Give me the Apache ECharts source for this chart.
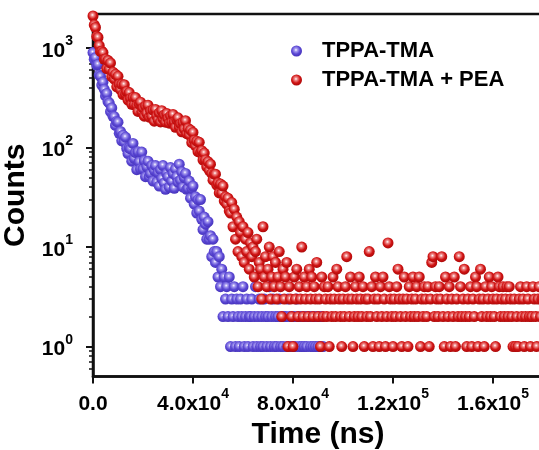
<!DOCTYPE html>
<html><head><meta charset="utf-8">
<script src="https://cdn.jsdelivr.net/npm/echarts@6/dist/echarts.min.js"></script>
<style>html,body{margin:0;padding:0;background:#fff}#c{width:539px;height:450px}</style>
</head><body><div id="c"></div>
<script>
// channel width of the decay histogram (ns)
const TIME_STEP_NS = 500;
const seriesNames = ['TPPA-TMA', 'TPPA-TMA + PEA'];

// TPPA-TMA counts, one per channel starting at t = 0 (10 channels = 5 µs per row)
const countsTPPA = [
  900,770,800,670,685,535,520,425,455,385,
  330,350,290,280,230,250,206,205,167,183,
  180,139,145,117,133,114,127,98,87,99,
  97,73,110,78,89,60,91,72,61,90,
  61,74,51,64,73,51,55,66,46,59,
  66,45,56,41,60,49,66,44,38,55,
  51,40,63,46,55,39,61,51,45,68,
  47,57,40,50,55,38,39,46,31,39,
  41,27,32,22,30,23,30,19,15,20,
  17,12,18,12,13,8,12,9,7,9,
  5,8,4,6,2,5,3,4,2,5,
  1,3,2,4,1,3,2,1,3,2,
  4,1,2,3,1,2,2,3,1,2,
  4,1,2,3,1,2,1,3,2,1,
  2,4,1,2,3,1,2,1,2,3,
  1,2,1,2,2,1,3,2,1,2,
  1,2,1,3,2,1,2,1,2,1,
  2,1,2,2,1,2,1,2,1,2,
  1,2,1,2,1
];

// TPPA-TMA + PEA counts, one per channel starting at t = 0 (10 channels = 5 µs per row)
const countsTPPA_PEA = [
  2100,1710,1610,1310,1280,1060,925,930,900,770,
  775,620,750,613,708,516,572,488,545,408,
  520,431,382,431,341,428,344,366,300,357,
  312,272,318,269,318,264,231,273,286,230,
  250,207,261,221,267,202,233,206,238,184,
  242,208,191,223,181,235,195,213,180,220,
  196,176,208,180,215,181,160,190,199,161,
  174,144,179,154,186,138,156,134,150,112,
  142,118,104,116,91,113,89,93,75,88,
  75,64,72,59,68,55,47,54,54,42,
  44,35,43,35,41,29,32,27,31,23,
  22,28,16,24,12,20,9,18,14,8,
  16,7,12,9,14,6,11,8,10,5,
  9,12,4,7,6,3,16,5,8,4,
  6,10,3,5,8,4,7,3,5,9,
  4,2,6,3,5,7,1,4,3,2,
  1,5,3,6,2,4,3,10,2,5,
  3,4,2,6,3,5,2,4,3,7,
  2,3,1,5,2,4,3,2,4,1,
  3,2,5,3,2,6,4,3,2,1,
  3,2,4,8,3,2,5,3,1,2,
  4,3,2,5,3,2,4,1,3,2,
  3,9,2,4,1,3,5,2,3,1,
  4,2,5,3,1,2,11,4,3,2,
  1,3,2,4,6,3,2,1,3,5,
  2,3,1,4,2,3,5,2,3,4,
  2,5,1,3,2,4,3,2,4,1,
  3,7,8,2,4,3,2,4,3,8,
  2,1,5,3,2,4,1,3,2,5,
  1,3,2,8,4,2,3,6,2,1,
  3,2,4,1,3,2,5,4,1,3,
  6,2,3,1,4,2,3,5,2,4,
  3,2,1,3,5,4,2,3,4,2,
  3,4,2,4,3,2,1,3,1,2,
  1,3,4,2,3,1,2,4,3,2,
  1,2,4,3,2,1,3,4,2,3,
  3
];

const xTickValues = [0, 40000, 80000, 120000, 160000];
const yMajorTicks = [1, 10, 100, 1000];
const yMinorTicks = [0.6,0.7,0.8,0.9,2,3,4,5,6,7,8,9,20,30,40,50,60,70,80,90,200,300,400,500,600,700,800,900,2000];
const Y_MIN = 0.5, Y_MAX = 2200, X_MIN = 0, X_MAX = 180000;

const toPairs = arr => arr.map((v, i) => [i * TIME_STEP_NS, v]).filter(p => p[1] != null && p[1] > 0);

function sphere(light, base, dark) {
  return {
    type: 'radial', x: 0.45, y: 0.4, r: 0.62,
    colorStops: [
      {offset: 0, color: '#ffffff'},
      {offset: 0.22, color: light},
      {offset: 0.6, color: base},
      {offset: 1, color: dark}
    ]
  };
}

const FONT = 'Liberation Sans, Arial, sans-serif';
const rich = {
  b: {fontFamily: FONT, fontWeight: 'bold', fontSize: 21, color: '#000', lineHeight: 27, verticalAlign: 'bottom'},
  s: {fontFamily: FONT, fontWeight: 'bold', fontSize: 14, color: '#000', lineHeight: 27, verticalAlign: 'top'}
};

function fmtX(v) {
  if (v === 0) return '{b|0.0}';
  const e = Math.floor(Math.log10(v) + 1e-9);
  const m = v / Math.pow(10, e);
  return '{b|' + m.toFixed(1) + 'x10}{s|' + e + '}';
}
function fmtY(v) {
  const e = Math.round(Math.log10(v));
  if (Math.abs(Math.pow(10, e) - v) > 1e-6 * v) return '';
  return '{b|10}{s|' + e + '}';
}

// helper tick axes live in log10 space so tick marks land on decades / sub-decades
const logTickAxis = (vals, len, w) => ({
  type: 'value', position: 'left', min: Math.log10(Y_MIN), max: Math.log10(Y_MAX),
  axisLine: {show: false, onZero: false},
  axisTick: {show: true, inside: false, length: len, lineStyle: {color: '#111', width: w}, customValues: vals.map(Math.log10)},
  axisLabel: {show: false},
  splitLine: {show: false}
});

const chart = echarts.init(document.getElementById('c'), null, {renderer: 'canvas'});
chart.setOption({
  animation: false,
  backgroundColor: '#fff',
  grid: {left: 93, top: 14, right: -4, bottom: 73.5, show: true, borderColor: '#111', borderWidth: 2.5,
         containLabel: false, outerBoundsMode: 'none'},
  legend: {
    left: 286, top: 35, orient: 'vertical', itemGap: 7,
    itemWidth: 11, itemHeight: 11, icon: 'circle',
    textStyle: {fontFamily: FONT, fontWeight: 'bold', fontSize: 22, color: '#000', padding: [0, 0, 0, 15]},
    data: seriesNames
  },
  xAxis: {
    type: 'value', min: X_MIN, max: X_MAX, interval: 40000,
    name: 'Time (ns)', nameLocation: 'middle', nameGap: 42,
    nameTextStyle: {fontFamily: FONT, fontWeight: 'bold', fontSize: 30, color: '#000'},
    axisLine: {onZero: false, lineStyle: {color: '#111', width: 2.5}},
    axisTick: {show: true, inside: false, length: 7, lineStyle: {color: '#111', width: 2}, customValues: xTickValues},
    axisLabel: {margin: 11, formatter: fmtX, rich: rich, customValues: xTickValues},
    splitLine: {show: false}
  },
  yAxis: [{
    type: 'log', logBase: 10, min: Y_MIN, max: Y_MAX,
    name: 'Counts', nameLocation: 'middle', nameGap: 45, nameRotate: 90,
    nameTextStyle: {fontFamily: FONT, fontWeight: 'bold', fontSize: 30, color: '#000'},
    axisLine: {show: true, onZero: false, lineStyle: {color: '#111', width: 2.5}},
    axisTick: {show: false},
    axisLabel: {margin: 20, formatter: fmtY, rich: rich, customValues: yMajorTicks},
    splitLine: {show: false}
  }, logTickAxis(yMajorTicks, 7, 2), logTickAxis(yMinorTicks, 4, 1.5)],
  series: [{
    name: seriesNames[0], type: 'scatter', symbol: 'circle', symbolSize: 11,
    data: toPairs(countsTPPA),
    itemStyle: {color: sphere('#a79cf0', '#5b48d4', '#4330b8'), opacity: 1}
  }, {
    name: seriesNames[1], type: 'scatter', symbol: 'circle', symbolSize: 11,
    data: toPairs(countsTPPA_PEA),
    itemStyle: {color: sphere('#f08a8a', '#d01414', '#a80808'), opacity: 1}
  }]
});
</script>
</body></html>
